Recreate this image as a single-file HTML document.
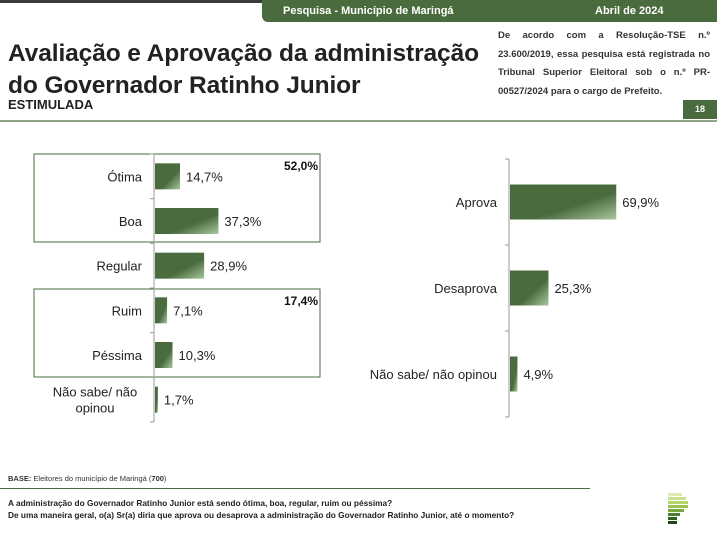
<!DOCTYPE html>
<html><head><meta charset="utf-8">
<style>
body{margin:0;width:717px;height:539px;overflow:hidden;background:#fff;font-family:"Liberation Sans",sans-serif;position:relative}
.abs{position:absolute}
</style></head><body>
<div class="abs" style="left:0;top:0;width:717px;height:3px;background:#3a3a3a"></div>
<div class="abs" style="left:262px;top:0;width:455px;height:22px;background:#4a6b3d;border-bottom-left-radius:6px"></div>
<div class="abs" style="left:283px;top:5px;color:#fff;font-weight:bold;font-size:11px">Pesquisa - Município de Maringá</div>
<div class="abs" style="left:595px;top:5px;color:#fff;font-weight:bold;font-size:11px">Abril de 2024</div>
<div class="abs" style="left:8px;top:38px;font-size:24.5px;font-weight:bold;color:#222;line-height:32px;letter-spacing:-0.1px">Avaliação e Aprovação da administração<br>do Governador Ratinho Junior</div>
<div class="abs" style="left:8px;top:97px;font-size:13px;font-weight:bold;color:#222">ESTIMULADA</div>
<div class="abs" style="left:498px;top:27px;width:212px;font-size:9.5px;font-weight:bold;color:#333;line-height:18.5px;text-align:justify;text-align-last:left">De acordo com a Resolução-TSE n.º 23.600/2019, essa pesquisa está registrada no Tribunal Superior Eleitoral sob o n.º PR-00527/2024 para o cargo de Prefeito.</div>
<div class="abs" style="left:683px;top:100px;width:34px;height:19px;background:#4a6b3d;color:#fff;font-size:9px;font-weight:bold;text-align:center;line-height:19px">18</div>
<div class="abs" style="left:0;top:120px;width:717px;height:2px;background:#8fa487"></div>

<svg class="abs" style="left:0;top:0" width="717" height="539">
<defs><linearGradient id="g" x1="0" y1="0" x2="1" y2="1"><stop offset="0.6" stop-color="#4a6b3e"/><stop offset="1" stop-color="#a9c79d"/></linearGradient></defs>
<rect x="34" y="154" width="286" height="88" fill="none" stroke="#4a6b3e" stroke-width="1"/>
<rect x="34" y="289" width="286" height="88" fill="none" stroke="#4a6b3e" stroke-width="1"/>
<text x="318" y="170" text-anchor="end" font-size="12" font-weight="bold" fill="#111">52,0%</text>
<text x="318" y="305" text-anchor="end" font-size="12" font-weight="bold" fill="#111">17,4%</text>
<g id="left"></g><g id="right"></g>
</svg>

<div class="abs" style="left:8px;top:474px;font-size:7.5px;color:#333"><b>BASE:</b> Eleitores do município de Maringá (<b>700</b>)</div>
<div class="abs" style="left:0;top:488px;width:590px;height:1px;background:#4a6b3e"></div>
<div class="abs" style="left:8px;top:497px;font-size:8.3px;font-weight:bold;color:#222;line-height:12px">A administração do Governador Ratinho Junior está sendo ótima, boa, regular, ruim ou péssima?<br>De uma maneira geral, o(a) Sr(a) diria que aprova ou desaprova a administração do Governador Ratinho Junior, até o momento?</div>
<svg class="abs" style="left:666px;top:493px" width="24" height="36">
<rect x="2" y="0" width="14" height="3" fill="#dcecb0"/><rect x="2" y="4" width="18" height="3" fill="#c8e08a"/><rect x="2" y="8" width="20" height="3" fill="#b5d46a"/><rect x="2" y="12" width="20" height="3" fill="#9cc250"/><rect x="2" y="16" width="16" height="3" fill="#7aa83c"/><rect x="2" y="20" width="12" height="3" fill="#4e7f2e"/><rect x="2" y="24" width="9" height="3" fill="#2f5e22"/><rect x="2" y="28" width="9" height="3" fill="#1f4518"/>
</svg>

<script>
const leftCats=["Ótima","Boa","Regular","Ruim","Péssima","Não sabe/ não opinou"];
const leftVals=[14.7,37.3,28.9,7.1,10.3,1.7];
const rightCats=["Aprova","Desaprova","Não sabe/ não opinou"];
const rightVals=[69.9,25.3,4.9];
const NS="http://www.w3.org/2000/svg";
function mk(t,a,p){const e=document.createElementNS(NS,t);for(const k in a)e.setAttribute(k,a[k]);p.appendChild(e);return e;}
function fmt(v){return v.toFixed(1).replace('.',',')+'%';}
function draw(gid,cats,vals,x0,top,bottom,scale,barH,wrap){
  const g=document.getElementById(gid);
  const step=(bottom-top)/cats.length;
  const ax=mk('line',{x1:x0,x2:x0,y1:top,y2:bottom,stroke:'#999','stroke-width':1},g);
  
  
  for(let i=0;i<=cats.length;i++){const y=top+i*step;mk('line',{x1:x0-4,x2:x0,y1:y,y2:y,stroke:'#999'},g);}
  cats.forEach((c,i)=>{
    const cy=top+step*(i+0.5), w=vals[i]*scale;
    const r=mk('rect',{x:x0+1,y:cy-barH/2,width:w,height:barH,fill:'url(#g)'},g);
    
    
    const t=mk('text',{x:x0+w+7,y:cy+5,'font-size':13,fill:'#222'},g);t.textContent=fmt(vals[i]);
    
    
    const lbl=mk('text',{x:x0-12,y:cy+5,'font-size':13,fill:'#222','text-anchor':'end'},g);
    
    
    if(wrap&&c.length>14){lbl.setAttribute('text-anchor','middle');lbl.setAttribute('x',x0-59);lbl.setAttribute('y',cy-3);
      const a=mk('tspan',{},lbl);a.textContent="Não sabe/ não";const b=mk('tspan',{x:x0-59,dy:16},lbl);b.textContent="opinou";}
    else lbl.textContent=c;
  });
}
draw('left',leftCats,leftVals,154,154,422,1.7,26,true);
draw('right',rightCats,rightVals,509,159,417,1.52,35,false);
</script>
</body></html>
